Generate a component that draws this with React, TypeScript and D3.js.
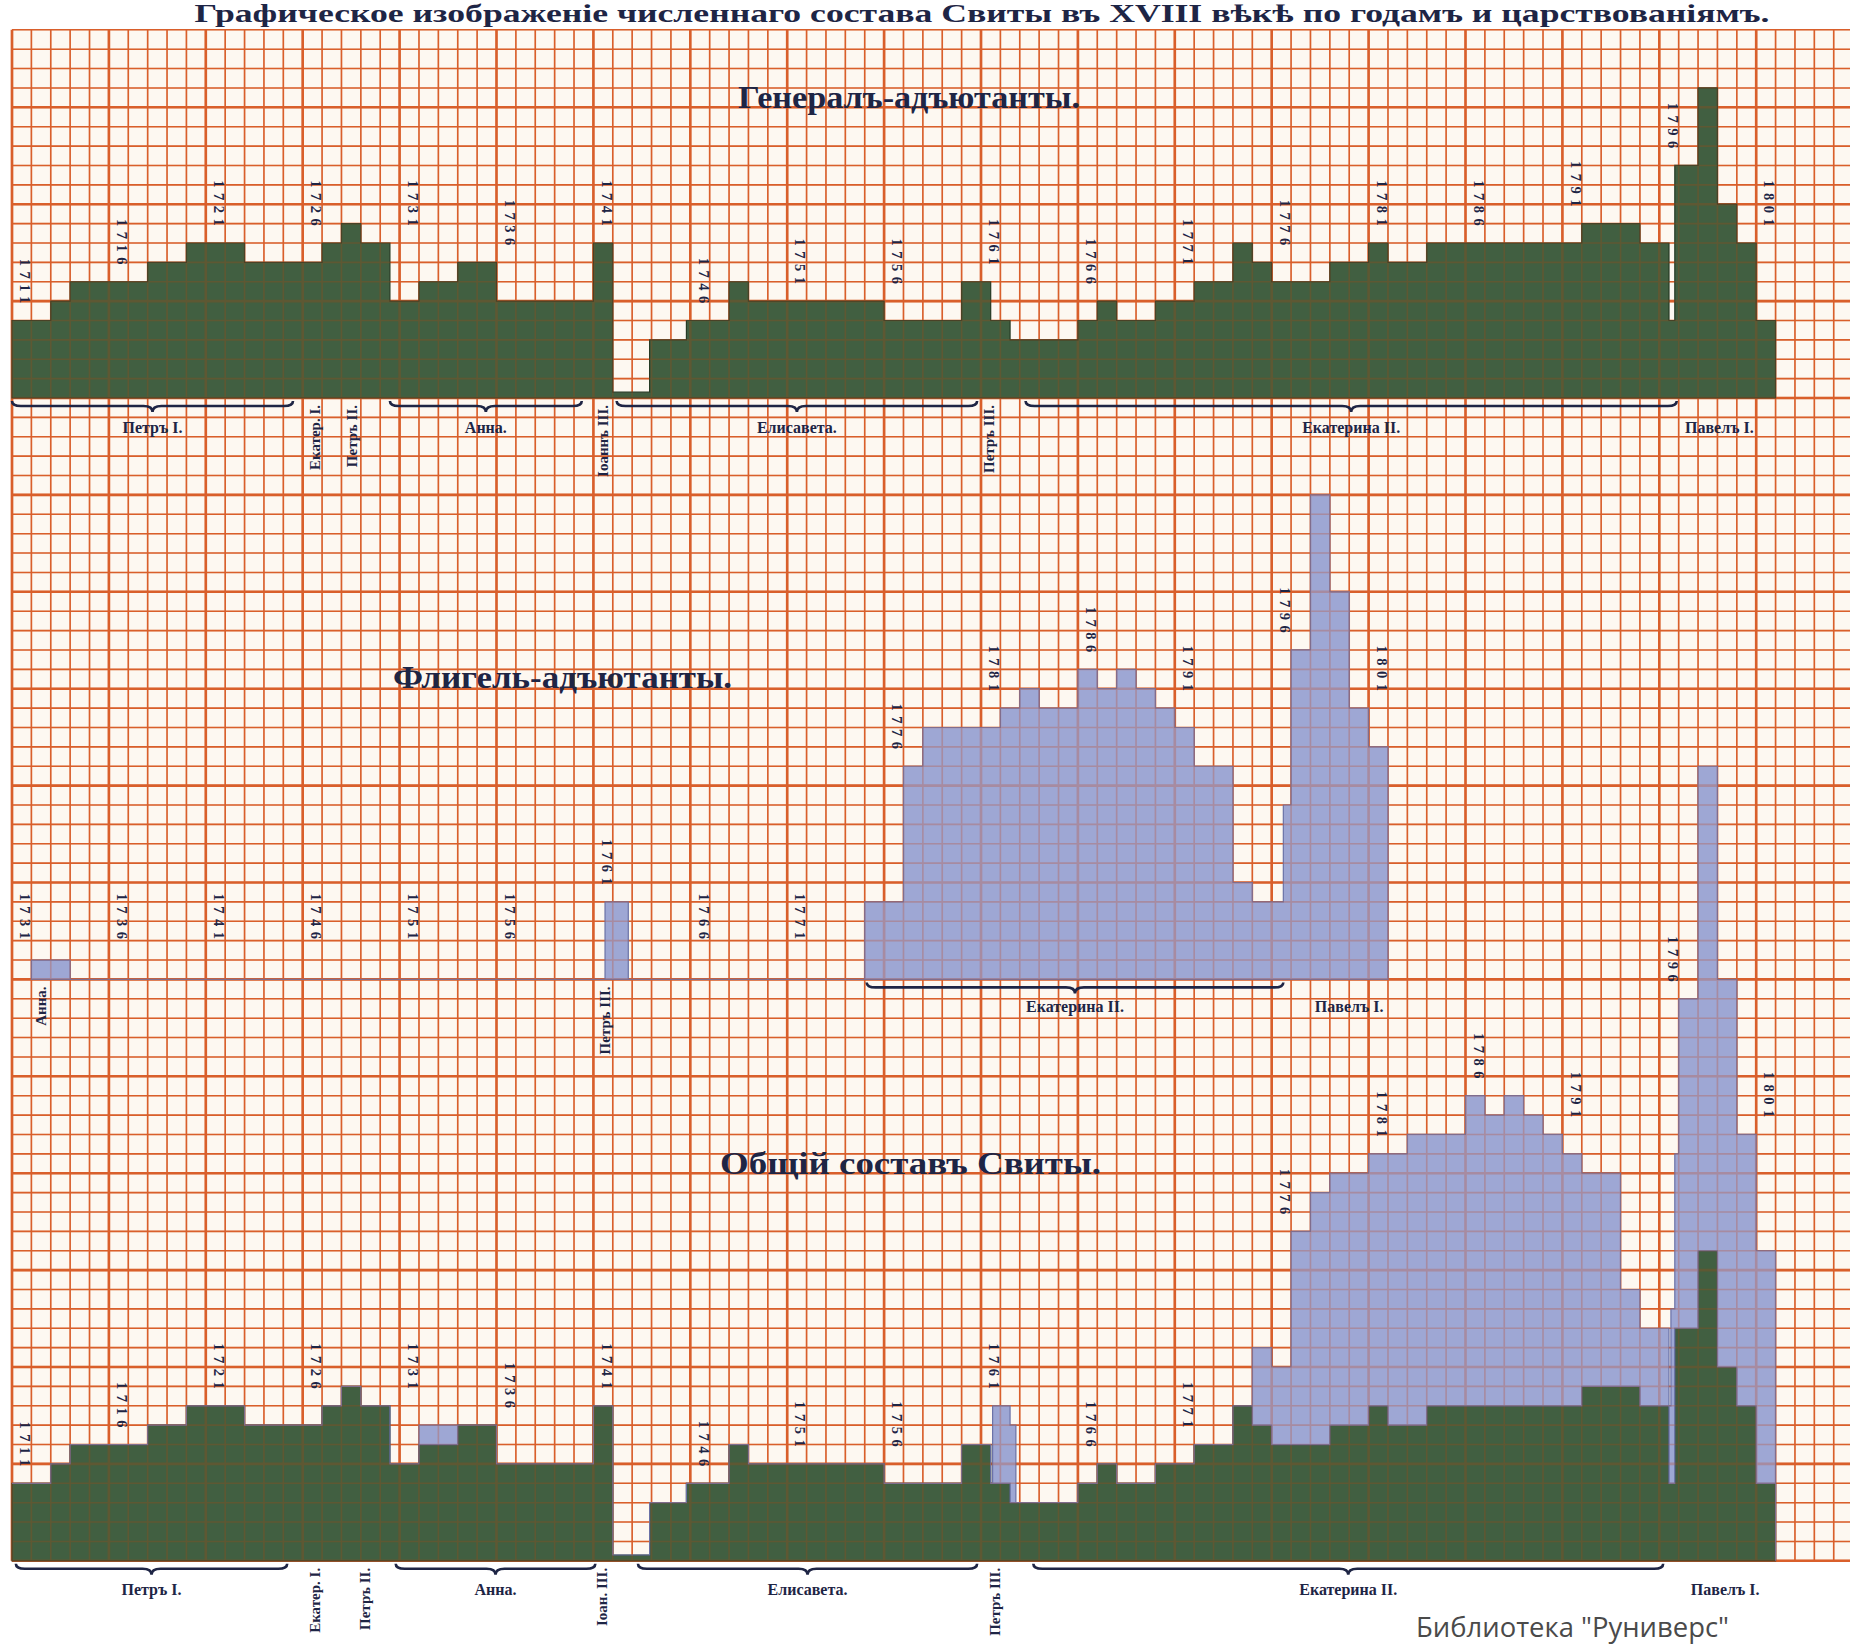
import React from "react";
import * as d3 from "d3";

const W = 1850;
const H = 1651;
const LEFT = 12;
const CELL = 19.38;
const TOP = 29.8;
const ROWS = 79;

const GRID = "#d95f2b";
const PAPER = "#fdf8f1";
const GREEN = "#375637";
const VIOLET = "#949dd0";
const INK = "#1e2545";
const SERIF = "'Liberation Serif', 'DejaVu Serif', serif";

// [year the number starts, number of persons]
const generalAdjutants: [number, number][] = [
  [1711, 4], [1713, 5], [1714, 6], [1718, 7], [1720, 8], [1723, 7], [1727, 8],
  [1728, 9], [1729, 8], [1730.5, 5], [1732, 6], [1734, 7], [1736, 5], [1741, 8],
  [1742, 0.3], [1743.9, 3], [1745.8, 4], [1748, 6], [1749, 5], [1756, 4],
  [1760, 6], [1761.5, 4], [1762.5, 3], [1766, 4], [1767, 5], [1768, 4],
  [1770, 5], [1772, 6], [1774, 8], [1775, 7], [1776, 6], [1779, 7], [1781, 8],
  [1782, 7], [1784, 8], [1792, 9], [1795, 8], [1796.5, 4], [1796.8, 12],
  [1798, 16], [1799, 10], [1800, 8], [1801, 4], [1802, 0],
];

const fligelAdjutants: [number, number][] = [
  [1732, 1], [1734, 0], [1761.6, 4], [1762.8, 0], [1775, 4], [1777, 11],
  [1778, 13], [1782, 14], [1783, 15], [1784, 14], [1786, 16], [1787, 15],
  [1788, 16], [1789, 15], [1790, 14], [1791, 13], [1792, 11], [1794, 5],
  [1795, 4], [1796.6, 9], [1797, 17], [1798, 25], [1799, 20], [1800, 14],
  [1801, 12], [1802, 0],
];

const topYears = d3.range(1711, 1802, 5);
const midYears = d3.range(1731, 1802, 5);

type Brace = { name: string; from: number; to: number };
type Mark = { name: string; at: number };

const topBraces: Brace[] = [
  { name: "Петръ I.", from: 1711, to: 1725.5 },
  { name: "Анна.", from: 1730.5, to: 1740.4 },
  { name: "Елисавета.", from: 1742.2, to: 1760.8 },
  { name: "Екатерина II.", from: 1763.3, to: 1796.9 },
];
const topSide: Mark[] = [
  { name: "Екатер. I.", at: 1726.7 },
  { name: "Петръ II.", at: 1728.6 },
  { name: "Іоаннъ III.", at: 1741.6 },
  { name: "Петръ III.", at: 1761.5 },
];
const topPlain: Mark[] = [{ name: "Павелъ I.", at: 1799.1 }];

const midBraces: Brace[] = [{ name: "Екатерина II.", from: 1775.1, to: 1796.6 }];
const midSide: Mark[] = [
  { name: "Анна.", at: 1732.6 },
  { name: "Петръ III.", at: 1761.7 },
];
const midPlain: Mark[] = [{ name: "Павелъ I.", at: 1800 }];

const botBraces: Brace[] = [
  { name: "Петръ I.", from: 1711.2, to: 1725.2 },
  { name: "Анна.", from: 1730.8, to: 1741.1 },
  { name: "Елисавета.", from: 1743.3, to: 1760.8 },
  { name: "Екатерина II.", from: 1763.7, to: 1796.2 },
];
const botSide: Mark[] = [
  { name: "Екатер. I.", at: 1726.7 },
  { name: "Петръ II.", at: 1729.3 },
  { name: "Іоан. III.", at: 1741.5 },
  { name: "Петръ III.", at: 1761.8 },
];
const botPlain: Mark[] = [{ name: "Павелъ I.", at: 1799.4 }];

const valueAt = (runs: [number, number][], t: number) => {
  let v = 0;
  for (const [s, c] of runs) if (s <= t) v = c;
  return v;
};

const rowY = (r: number) => TOP + r * CELL;
const baseTop = rowY(19);
const baseMid = rowY(49);
const baseBot = rowY(79);

const xTop = d3.scaleLinear().domain([1711, 1712]).range([LEFT, LEFT + CELL]);
const xMid = d3.scaleLinear().domain([1731, 1732]).range([LEFT, LEFT + CELL]);
const yFor = (base: number) => d3.scaleLinear().domain([0, 1]).range([base, base - CELL]);
const yTop = yFor(baseTop);
const yMid = yFor(baseMid);
const yBot = yFor(baseBot);

// highest count in the label's own year column and its two neighbours
const levelNear = (f: (t: number) => number, year: number) => {
  let m = 0;
  for (const c of [year - 1, year, year + 1]) for (let i = 1; i < 10; i++) m = Math.max(m, f(c + i / 10));
  return m;
};

function stepPath(runs: [number, number][], x: d3.ScaleLinear<number, number>, y: d3.ScaleLinear<number, number>) {
  return d3
    .area<[number, number]>()
    .x((d) => x(d[0]))
    .y0(y(0))
    .y1((d) => y(d[1]))
    .curve(d3.curveStepAfter)(runs) as string;
}

const breaks = Array.from(new Set([...generalAdjutants.map((d) => d[0]), ...fligelAdjutants.map((d) => d[0])])).sort(
  (a, b) => a - b
);
const stacked = breaks.map((t) => {
  const g = valueAt(generalAdjutants, t);
  return { t, lo: g, hi: g + valueAt(fligelAdjutants, t) };
});
const stackedPath = d3
  .area<{ t: number; lo: number; hi: number }>()
  .x((d) => xTop(d.t))
  .y0((d) => yBot(d.lo))
  .y1((d) => yBot(d.hi))
  .curve(d3.curveStepAfter)(stacked) as string;

function bracePath(xa: number, xb: number, y: number) {
  const m = (xa + xb) / 2;
  return `M${xa},${y - 5} Q${xa},${y} ${xa + 9},${y} L${m - 9},${y} Q${m},${y} ${m},${y + 6} Q${m},${y} ${m + 9},${y} L${xb - 9},${y} Q${xb},${y} ${xb},${y - 5}`;
}

function Grid({ opacity }: { opacity: number }) {
  const nCols = Math.floor((W - LEFT) / CELL);
  return (
    <g opacity={opacity}>
      {d3.range(0, nCols + 1).map((k) => (
        <line
          key={"v" + k}
          x1={LEFT + k * CELL}
          x2={LEFT + k * CELL}
          y1={TOP}
          y2={baseBot}
          stroke={GRID}
          strokeWidth={k % 5 === 0 ? 2.6 : 1.6}
        />
      ))}
      {d3.range(0, ROWS + 1).map((r) => (
        <line
          key={"h" + r}
          x1={LEFT}
          x2={W}
          y1={rowY(r)}
          y2={rowY(r)}
          stroke={GRID}
          strokeWidth={r % 5 === 4 ? 2.6 : 1.6}
        />
      ))}
    </g>
  );
}

function YearLabels({ years, x, y, level }: { years: number[]; x: d3.ScaleLinear<number, number>; y: d3.ScaleLinear<number, number>; level: (yr: number) => number }) {
  return (
    <g fontFamily={SERIF} fontWeight={700} fontSize={14.5} fill={INK}>
      {years.map((yr) => (
        <text
          key={yr}
          transform={`translate(${x(yr + 0.6)},${y(level(yr) + 0.6)}) rotate(90)`}
          textAnchor="end"
          dominantBaseline="middle"
          letterSpacing={5.5}
        >
          {yr}
        </text>
      ))}
    </g>
  );
}

function Reigns({ braces, side, plain, x, base, labelY }: { braces: Brace[]; side: Mark[]; plain: Mark[]; x: d3.ScaleLinear<number, number>; base: number; labelY: number }) {
  return (
    <g fontFamily={SERIF} fontWeight={700} fill={INK}>
      {braces.map((b) => (
        <g key={b.name + b.from}>
          <path d={bracePath(x(b.from), x(b.to), base + 8)} fill="none" stroke={INK} strokeWidth={2.6} />
          <text x={x((b.from + b.to) / 2)} y={labelY} textAnchor="middle" fontSize={16}>
            {b.name}
          </text>
        </g>
      ))}
      {side.map((s) => (
        <text
          key={s.name + s.at}
          transform={`translate(${x(s.at)},${base + 7}) rotate(-90)`}
          textAnchor="end"
          dominantBaseline="middle"
          fontSize={15}
        >
          {s.name}
        </text>
      ))}
      {plain.map((p) => (
        <text key={p.name + p.at} x={x(p.at)} y={labelY} textAnchor="middle" fontSize={16}>
          {p.name}
        </text>
      ))}
    </g>
  );
}

export default function App() {
  const genAt = (t: number) => valueAt(generalAdjutants, t);
  const flAt = (t: number) => valueAt(fligelAdjutants, t);
  const totAt = (t: number) => genAt(t) + flAt(t);
  return (
    <svg width={W} height={H} style={{ position: "absolute", left: 0, top: 0 }}>
      <rect x={0} y={0} width={W} height={H} fill="#ffffff" />
      <rect x={LEFT} y={TOP} width={W - LEFT} height={baseBot - TOP} fill={PAPER} />
      <Grid opacity={1} />

      <path d={stepPath(generalAdjutants, xTop, yTop)} fill={GREEN} fillOpacity={0.95} stroke="#263a25" strokeWidth={1.2} />
      <path d={stepPath(fligelAdjutants, xMid, yMid)} fill={VIOLET} fillOpacity={0.9} stroke="#6a71a6" strokeWidth={1.2} />
      <path d={stepPath(generalAdjutants, xTop, yBot)} fill={GREEN} fillOpacity={0.95} stroke="#263a25" strokeWidth={1.2} />
      <path d={stackedPath} fill={VIOLET} fillOpacity={0.9} stroke="#6a71a6" strokeWidth={1.2} />

      <Grid opacity={0.2} />

      <text x={982} y={22} textAnchor="middle" fontFamily={SERIF} fontWeight={700} fontSize={26} fill={INK} textLength={1575} lengthAdjust="spacingAndGlyphs">
        Графическое изображеніе численнаго состава Свиты въ XVIII вѣкѣ по годамъ и царствованіямъ.
      </text>
      <g fontFamily={SERIF} fontWeight={700} fill={INK}>
        <text x={738} y={108} fontSize={31} textLength={342} lengthAdjust="spacingAndGlyphs">
          Генералъ-адъютанты.
        </text>
        <text x={393} y={688} fontSize={31} textLength={339} lengthAdjust="spacingAndGlyphs">
          Флигель-адъютанты.
        </text>
        <text x={720} y={1174} fontSize={32} textLength={381} lengthAdjust="spacingAndGlyphs">
          Общій составъ Свиты.
        </text>
      </g>

      <YearLabels years={topYears} x={xTop} y={yTop} level={(yr) => levelNear(genAt, yr)} />
      <YearLabels years={midYears} x={xMid} y={yMid} level={(yr) => Math.max(1.2, levelNear(flAt, yr))} />
      <YearLabels years={topYears} x={xTop} y={yBot} level={(yr) => levelNear(totAt, yr)} />

      <Reigns braces={topBraces} side={topSide} plain={topPlain} x={xTop} base={baseTop} labelY={433} />
      <Reigns braces={midBraces} side={midSide} plain={midPlain} x={xMid} base={baseMid} labelY={1012} />
      <Reigns braces={botBraces} side={botSide} plain={botPlain} x={xTop} base={baseBot} labelY={1595} />

      <text x={1416} y={1637} fontFamily="'Open Sans', sans-serif" fontSize={27} fill="#4a4a4a" textLength={313} lengthAdjust="spacingAndGlyphs">
        Библиотека "Руниверс"
      </text>
    </svg>
  );
}
